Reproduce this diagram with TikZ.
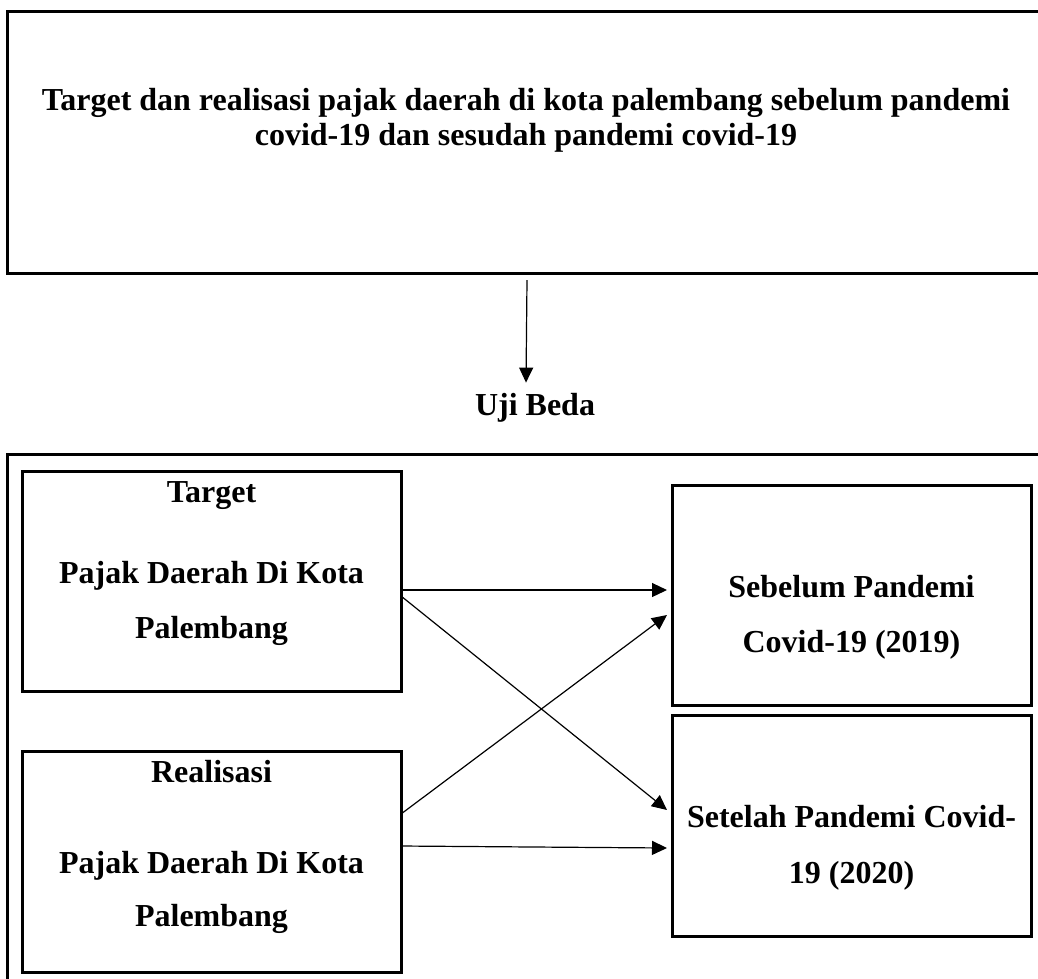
\documentclass[tikz,border=0pt]{standalone}
\usepackage{fontspec}
\setmainfont{Liberation Serif}
\usetikzlibrary{arrows.meta,positioning}

\begin{document}
\begin{tikzpicture}[
  x=1pt,y=-1pt,
  kotak/.style={draw,line width=3pt,outer sep=0pt,inner sep=0pt},
  tulis/.style={font=\fontsize{32}{38}\selectfont\bfseries,anchor=base,inner sep=0pt},
  panah/.style={-{Triangle[length=15pt,width=14pt]},line width=1.2pt}
]
\useasboundingbox (0,0) rectangle (1038,978);
\clip (0,0) rectangle (1038,978);

% kotak judul dan bingkai bawah
\node[kotak,anchor=north west,minimum width=1100pt,minimum height=262pt] (judul) at (7,11) {};
\node[kotak,anchor=north west,minimum width=1100pt,minimum height=600pt] (bingkai) at (7,454) {};
\node[tulis] (judul1) at (526,110) {Target dan realisasi pajak daerah di kota palembang sebelum pandemi};
\node[tulis] (judul2) at (526,145) {covid-19 dan sesudah pandemi covid-19};

\node[tulis] (uji) at (535,415) {Uji Beda};
\draw[panah] ([shift={(-8pt,-7pt)}]judul.south -| uji.north) -- ([shift={(-9pt,10pt)}]uji.north);

% kotak kiri
\node[kotak,minimum width=379pt,minimum height=220pt] (tgt) at (211.5,581) {};
\node[kotak,minimum width=379pt,minimum height=221pt,below=60pt of tgt] (rls) {};
% kotak kanan
\node[kotak,minimum width=359pt,minimum height=220pt] (sbl) at (851.5,595) {};
\node[kotak,minimum width=359pt,minimum height=221pt,below=10pt of sbl] (stl) {};

\node[tulis] (tgt1) at ([yshift=-31pt]tgt.north) {Target};
\node[tulis] (tgt2) at ([yshift=-112pt]tgt.north) {Pajak Daerah Di Kota};
\node[tulis] (tgt3) at ([yshift=-167pt]tgt.north) {Palembang};

\node[tulis] (rls1) at ([yshift=-31pt]rls.north) {Realisasi};
\node[tulis] (rls2) at ([yshift=-122pt]rls.north) {Pajak Daerah Di Kota};
\node[tulis] (rls3) at ([yshift=-175pt]rls.north) {Palembang};

\node[tulis] (sbl1) at ([yshift=-112pt]sbl.north) {Sebelum Pandemi};
\node[tulis] (sbl2) at ([yshift=-167pt]sbl.north) {Covid-19 (2019)};

\node[tulis] (stl1) at ([yshift=-112pt]stl.north) {Setelah Pandemi Covid-};
\node[tulis] (stl2) at ([yshift=-168pt]stl.north) {19 (2020)};

% panah silang
\draw[panah] ([yshift=-9pt]tgt.east) -- ([shift={(-5pt,5pt)}]sbl.west);
\draw[panah] ([yshift=-15pt]tgt.east) -- ([shift={(-5pt,15.5pt)}]stl.west);
\draw[panah] ([yshift=47.5pt]rls.east) -- ([shift={(-5pt,-20pt)}]sbl.west);
\draw[panah] ([yshift=15.5pt]rls.east) -- ([shift={(-5pt,-22.5pt)}]stl.west);
\end{tikzpicture}
\end{document}
